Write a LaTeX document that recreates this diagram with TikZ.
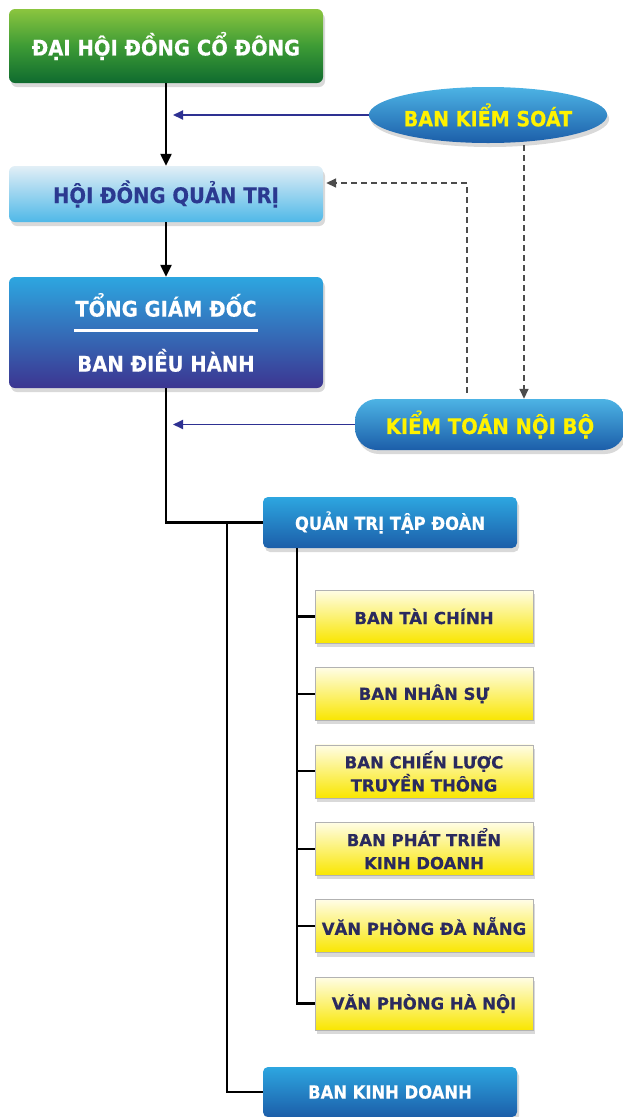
\documentclass[tikz,border=0pt]{standalone}
\usepackage{fontspec}
\setmainfont{DejaVu Sans}[FakeBold=0.4]
\newfontfamily\headfont[FakeStretch=0.91, FakeBold=0.4]{DejaVu Sans}
\usetikzlibrary{shapes.geometric,shadows,positioning,calc,arrows.meta}
\definecolor{greentop}{HTML}{8BC53F}
\definecolor{greenmid}{HTML}{3D9B35}
\definecolor{greenbot}{HTML}{0F6B2F}
\definecolor{paleblue}{HTML}{E2EFF6}
\definecolor{skyblue}{HTML}{4FB8E8}
\definecolor{bluetop}{HTML}{2DA6E0}
\definecolor{bluebot}{HTML}{1C5EA9}
\definecolor{indigo}{HTML}{3C3591}
\definecolor{navytext}{HTML}{2B3990}
\definecolor{darknavy}{HTML}{2A2A5E}
\definecolor{linknavy}{HTML}{2E3192}
\definecolor{signyellow}{HTML}{FFF200}
\definecolor{paleyellow}{HTML}{FFFDE6}
\definecolor{deepyellow}{HTML}{F9E600}
\tikzset{box shadow/.style={drop shadow={shadow xshift=2pt, shadow yshift=-4pt, opacity=0.3}}}
\tikzset{head box/.style={rectangle, rounded corners=6pt, minimum width=314pt, align=center, box shadow,
  font=\headfont\bfseries\fontsize{21.5}{26}\selectfont}}
\tikzset{green box/.style={head box, minimum height=74pt, text=white, top color=greentop, bottom color=greenbot, middle color=greenmid}}
\tikzset{board box/.style={head box, minimum height=56pt, text=navytext, top color=paleblue, bottom color=skyblue}}
\tikzset{exec box/.style={head box, minimum height=111pt, text=white, top color=bluetop, bottom color=indigo}}
\tikzset{control ellipse/.style={ellipse, inner sep=0pt, minimum width=229pt, minimum height=56pt, box shadow,
  top color=bluetop!85!white, bottom color=bluebot, text=signyellow, font=\headfont\bfseries\fontsize{21}{25}\selectfont}}
\tikzset{audit box/.style={rectangle, rounded corners=22pt, minimum width=270pt, minimum height=51pt, box shadow,
  top color=bluetop!85!white, bottom color=bluebot, text=signyellow, font=\headfont\bfseries\fontsize{21.5}{26}\selectfont}}
\tikzset{unit box/.style={rectangle, rounded corners=5pt, minimum width=254pt, minimum height=51pt, box shadow,
  top color=bluetop, bottom color=bluebot, text=white, font=\headfont\bfseries\fontsize{18}{22}\selectfont}}
\tikzset{dept box/.style={rectangle, draw=black!30, minimum width=218pt, minimum height=53pt, inner sep=2pt, align=center, box shadow,
  top color=paleyellow, bottom color=deepyellow, text=darknavy, font=\bfseries\fontsize{16.5}{23}\selectfont}}
\tikzset{tree line/.style={line width=2.3pt, black}}
\tikzset{link line/.style={line width=1.8pt, linknavy, shorten >=7pt}}
\tikzset{audit line/.style={line width=1.6pt, black!70, dash pattern=on 6pt off 4pt}}

\begin{document}
\begin{tikzpicture}[x=1pt, y=-1pt, node distance=24pt, >={Triangle[length=12pt, width=11pt]}]
\useasboundingbox (0,0) rectangle (623,1117);
\node[green box] (dhdcd) at (166,46) {ĐẠI HỘI ĐỒNG CỔ ĐÔNG};
\node[board box] (hdqt) at (166,194) {HỘI ĐỒNG QUẢN TRỊ};
\node[exec box] (tgd) at (166,332.5) {TỔNG GIÁM ĐỐC\\[29pt]BAN ĐIỀU HÀNH};
\draw[white, line width=2.5pt] ($(tgd.center)+(-92,-2)$) -- ($(tgd.center)+(92,-2)$);
\node[control ellipse] (bks) at (488,115) {BAN KIỂM SOÁT};
\node[audit box] (ktnb) at (490,424.5) {KIỂM TOÁN NỘI BỘ};
\node[unit box] (qttd) at (390,522.5) {QUẢN TRỊ TẬP ĐOÀN};
\node[dept box] (btc) at (424,616.5) {BAN TÀI CHÍNH};
\node[dept box, below=of btc] (bns) {BAN NHÂN SỰ};
\node[dept box, below=of bns] (bcl) {BAN CHIẾN LƯỢC\\TRUYỀN THÔNG};
\node[dept box, below=of bcl] (bpt) {BAN PHÁT TRIỂN\\KINH DOANH};
\node[dept box, below=of bpt] (vpdn) {VĂN PHÒNG ĐÀ NẴNG};
\node[dept box, below=of vpdn] (vphn) {VĂN PHÒNG HÀ NỘI};
\node[unit box, minimum height=50pt] (bkd) at (390,1092) {BAN KINH DOANH};
% chain of command
\draw[->, tree line] (dhdcd) -- (hdqt);
\draw[->, tree line] (hdqt) -- (tgd);
\draw[->, link line, >={Triangle[length=10pt, width=9pt]}] (bks) -- (bks -| dhdcd.south);
\draw[->, link line, >={Triangle[length=10pt, width=9pt]}] (ktnb) -- (ktnb -| tgd.south);
% audit links
\coordinate (bksfoot) at ($(bks.center)+(36,30)$);
\coordinate (ktnbtop) at ($(ktnb.north)+(-23,-6)$);
\coordinate (hdqtin) at ($(hdqt.east)+(3,-11)$);
\draw[->, audit line, >={Triangle[length=10pt, width=9pt]}] (bksfoot) -- (bksfoot |- ktnb.north);
\draw[->, audit line, >={Triangle[length=10pt, width=9pt]}] (ktnbtop) |- (hdqtin);
% units
\draw[tree line] (tgd) |- (qttd);
\coordinate (fork) at ($(tgd.south |- qttd.west)+(61,0)$);
\draw[tree line] (fork) |- (bkd);
\coordinate (qtfoot) at ($(qttd.south west)+(34,0)$);
\draw[tree line] (qtfoot) |- (vphn);
\foreach \d in {btc,bns,bcl,bpt,vpdn}
  \draw[tree line] (qtfoot |- \d.west) -- (\d);
\end{tikzpicture}
\end{document}
